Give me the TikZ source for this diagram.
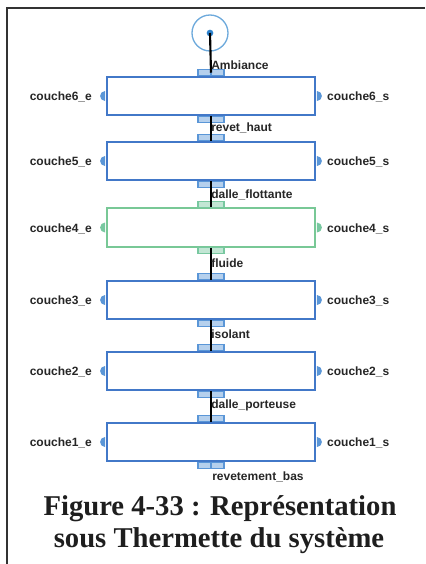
\documentclass[tikz,border=0pt]{standalone}
\usepackage{fontspec}
\setmainfont{Liberation Serif}
\setsansfont{Liberation Sans}
\usetikzlibrary{calc}
\definecolor{boxblue}{RGB}{66,120,200}
\definecolor{portblue}{RGB}{90,150,215}
\definecolor{dotblue}{RGB}{45,130,205}
\definecolor{circblue}{RGB}{110,170,220}
\definecolor{boxgreen}{RGB}{120,200,150}
\definecolor{portgreen}{RGB}{120,200,160}
\definecolor{framecol}{RGB}{50,50,50}
\definecolor{capcol}{RGB}{30,30,30}
\begin{document}
\begin{tikzpicture}[x=0.75pt,y=-0.75pt,
  layer/.style={draw=#1, line width=1.4pt, fill=white, minimum width=156pt, minimum height=29pt, inner sep=0pt},
  lbl/.style={font=\sffamily\bfseries\fontsize{9}{10}\selectfont, inner sep=0pt, text=black!85},
  conn/.style={draw=black, line width=1.6pt},
  portbox/.style={draw=#1, line width=0.9pt, fill=#1!45},
  caption/.style={font=\bfseries\fontsize{21.5}{26}\selectfont, text=capcol, inner sep=0pt, anchor=base}
]
\useasboundingbox (0,0) rectangle (425,564);
% frame
\draw[framecol, line width=1.5pt] (425,8) -- (7,8) -- (7,564);

% ambiance
\node[circle, draw=circblue, line width=1pt, minimum size=27pt, inner sep=0pt] (amb) at (210,33) {};
\node[circle, fill=dotblue, minimum size=5pt, inner sep=0pt] (ambdot) at (amb.center) {};

% layers
\node[layer=boxblue]  (b6) at (211,96) {};
\node[layer=boxblue]  (b5) at (211,161) {};
\node[layer=boxgreen] (b4) at (211,227.5) {};
\node[layer=boxblue]  (b3) at (211,300) {};
\node[layer=boxblue]  (b2) at (211,371) {};
\node[layer=boxblue]  (b1) at (211,442) {};

% ports and side dots
\foreach \b/\c in {b6/portblue,b5/portblue,b4/portgreen,b3/portblue,b2/portblue,b1/portblue}{
  \draw[portbox=\c] ($(\b.north)+(-13,-6)$) rectangle ($(\b.north)+(0,0)$);
  \draw[portbox=\c] ($(\b.north)+(0,-6)$) rectangle ($(\b.north)+(13,0)$);
  \draw[portbox=\c] ($(\b.south)+(-13,0)$) rectangle ($(\b.south)+(0,6)$);
  \draw[portbox=\c] ($(\b.south)+(0,0)$) rectangle ($(\b.south)+(13,6)$);
  \fill[\c] ($(\b.west)+(-1,-5)$) arc[start angle=90, end angle=270, radius=3.75pt] -- cycle;
  \fill[\c] ($(\b.east)+(1,-5)$) arc[start angle=90, end angle=-90, radius=3.75pt] -- cycle;
}

% connectors
\draw[conn] (ambdot.center) -- ($(b6.north)+(0,-3)$);
\draw[conn] (b6.south) -- (b5.north);
\draw[conn] (b5.south) -- (b4.north);
\draw[conn] (b4.south) -- (b3.north);
\draw[conn] (b3.south) -- (b2.north);
\draw[conn] (b2.south) -- (b1.north);

% connector labels
\node[lbl, anchor=west] (lamb) at (211,65) {Ambiance};
\node[lbl, anchor=west] (l65) at (211,128) {revet\_haut};
\node[lbl, anchor=west] (l54) at (211,195) {dalle\_flottante};
\node[lbl, anchor=west] (l43) at (211,263) {fluide};
\node[lbl, anchor=west] (l32) at (211,334) {isolant};
\node[lbl, anchor=west] (l21) at (211,405) {dalle\_porteuse};
\node[lbl, anchor=west] (l1b) at (212,477) {revetement\_bas};

% side labels
\foreach \b/\n in {b6/6,b5/5,b4/4,b3/3,b2/2,b1/1}{
  \node[lbl, anchor=east] (\b e) at ($(\b.west)+(-14,1)$) {couche\n\_e};
  \node[lbl, anchor=west] (\b s) at ($(\b.east)+(11,1)$) {couche\n\_s};
}

% caption
\node[caption] (cap1) at (220,515) {Figure 4-33 : Représentation};
\node[caption] (cap2) at (219,547) {sous Thermette du système};
\end{tikzpicture}
\end{document}
